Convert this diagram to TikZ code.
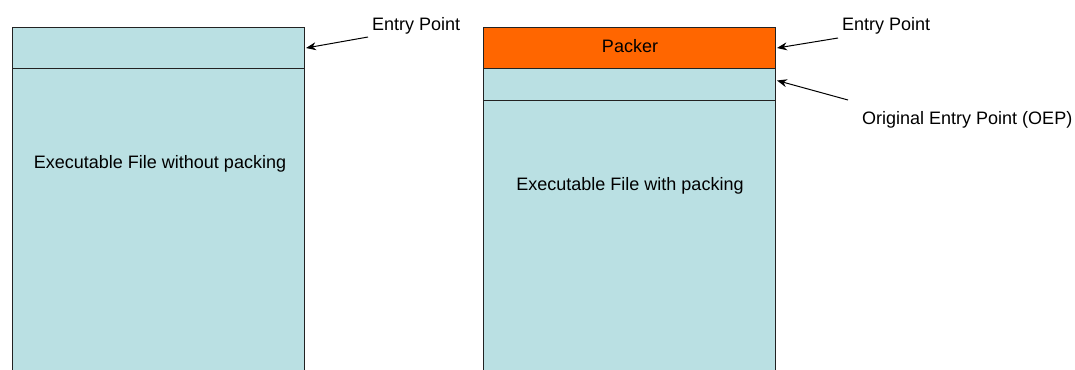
\documentclass[tikz,border=0pt]{standalone}
\usepackage{fontspec}
\setmainfont{Liberation Sans}
\usetikzlibrary{arrows.meta}
\definecolor{filebody}{HTML}{BAE0E3}
\definecolor{packerfill}{HTML}{FF6600}
\definecolor{edge}{HTML}{222222}
\tikzset{
  section/.style={draw=edge, line width=1bp, fill=filebody, inner sep=0pt,
    anchor=north west, minimum width=292bp, font=\fontsize{18bp}{21bp}\selectfont},
  packersec/.style={section, fill=packerfill},
  label/.style={inner sep=0pt, anchor=base west, font=\fontsize{18bp}{21bp}\selectfont},
  pointer/.style={draw=black, line width=1bp, -{Stealth[length=10bp,width=8bp]}},
}
\begin{document}
\begin{tikzpicture}[x=1bp,y=-1bp]
  \useasboundingbox (0,0) rectangle (1075,369);
  \fill[white] (0,0) rectangle (1075,369);
  \begin{scope}
    \clip (0,0) rectangle (1075,369);
    % plain executable
    \node[section, minimum height=41bp] (lhead) at (12,27) {};
    \node[section, minimum height=340bp] (lbody) at (12,68) {};
    % packed executable
    \node[packersec, minimum height=41bp] (packer) at (483,27) {};
    \node[section, minimum height=32bp] (oep) at (483,68) {};
    \node[section, minimum height=300bp] (rbody) at (483,100) {};
  \end{scope}

  \node[label, anchor=base] (packtxt) at (630,52) {Packer};
  \node[label, anchor=base] (ltxt) at (160,168) {Executable File without packing};
  \node[label, anchor=base] (rtxt) at (630,190) {Executable File with packing};

  \node[label] (lentry) at (372,30) {Entry Point};
  \node[label] (rentry) at (842,30) {Entry Point};
  \node[label] (oeptxt) at (862,124) {Original Entry Point (OEP)};

  \coordinate (lfrom) at (368,37);
  \coordinate (rfrom) at (838,38);
  \coordinate (ofrom) at (848,100);
  \coordinate (lto) at (lhead.east);
  \coordinate (rto) at (packer.east);
  \coordinate (oto) at ([yshift=4bp]oep.east);

  \draw[pointer] (lfrom) -- ([xshift=1bp]lto);
  \draw[pointer] (rfrom) -- ([xshift=1bp]rto);
  \draw[pointer] (ofrom) -- ([xshift=1bp]oto);
\end{tikzpicture}
\end{document}
